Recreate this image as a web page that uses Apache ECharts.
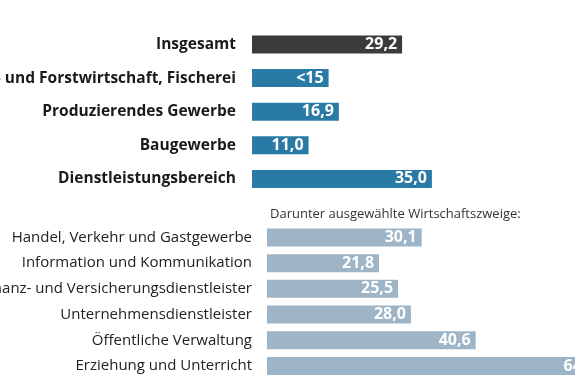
<!DOCTYPE html>
<html>
<head>
<meta charset="utf-8">
<script src="https://cdn.jsdelivr.net/npm/echarts@6/dist/echarts.min.js"></script>
<style>html,body{margin:0;padding:0;background:#fff}#c{width:575px;height:383px}</style>
</head>
<body>
<div id="c"></div>
<script>
const mainCategories = ["Insgesamt", "Land- und Forstwirtschaft, Fischerei", "Produzierendes Gewerbe", "Baugewerbe", "Dienstleistungsbereich"];
const mainValues = [29.2, 14.9, 16.9, 11.0, 35.0];
const mainLabels = ["29,2", "<15", "16,9", "11,0", "35,0"];
const subCategories = ["Handel, Verkehr und Gastgewerbe", "Information und Kommunikation", "Finanz- und Versicherungsdienstleister", "Unternehmensdienstleister", "Öffentliche Verwaltung", "Erziehung und Unterricht"];
const subValues = [30.1, 21.8, 25.5, 28.0, 40.6, 64.9];
const subLabels = ["30,1", "21,8", "25,5", "28,0", "40,6", "64,9"];
const subTitle = "Darunter ausgewählte Wirtschaftszweige:";

const FONT = "'Open Sans', 'Noto Sans', sans-serif";
const PX = 5.14;
const chart = echarts.init(document.getElementById('c'), null, {renderer: 'canvas'});
chart.setOption({
  animation: false,
  backgroundColor: '#ffffff',
  title: {
    text: subTitle, left: 265, top: 203,
    textStyle: {fontFamily: FONT, fontSize: 13, fontWeight: 'normal', color: '#333'}
  },
  grid: [
    {left: 252, top: 27.7, width: 60 * PX, height: 168, outerBoundsMode: 'none', containLabel: false},
    {left: 267, top: 224.6, width: 70 * PX, height: 154.2, outerBoundsMode: 'none', containLabel: false}
  ],
  xAxis: [
    {gridIndex: 0, type: 'value', min: 0, max: 60, show: false},
    {gridIndex: 1, type: 'value', min: 0, max: 70, show: false}
  ],
  yAxis: [
    {gridIndex: 0, type: 'category', data: mainCategories, inverse: true,
     axisLine: {show: false}, axisTick: {show: false}, splitLine: {show: false},
     axisLabel: {margin: 16, fontFamily: FONT, fontSize: 15.5, fontWeight: 'bold', color: '#1a1a1a'}},
    {gridIndex: 1, type: 'category', data: subCategories, inverse: true,
     axisLine: {show: false}, axisTick: {show: false}, splitLine: {show: false},
     axisLabel: {margin: 15, fontFamily: FONT, fontSize: 15, color: '#222'}}
  ],
  series: [
    {type: 'bar', xAxisIndex: 0, yAxisIndex: 0, barWidth: 18, clip: false,
     data: mainValues.map((v, i) => ({value: v, itemStyle: {color: i === 0 ? '#3b3b3b' : '#2a7aa6'}})),
     label: {show: true, position: 'insideRight', distance: 5, color: '#fff', fontFamily: FONT, fontSize: 16, fontWeight: 'bold',
       formatter: p => mainLabels[p.dataIndex]}},
    {type: 'bar', xAxisIndex: 1, yAxisIndex: 1, barWidth: 18, clip: false,
     itemStyle: {color: '#9eb5c8'},
     data: subValues,
     label: {show: true, position: 'insideRight', distance: 5, color: '#fff', fontFamily: FONT, fontSize: 16, fontWeight: 'bold',
       formatter: p => subLabels[p.dataIndex]}}
  ]
});
</script>
</body>
</html>
